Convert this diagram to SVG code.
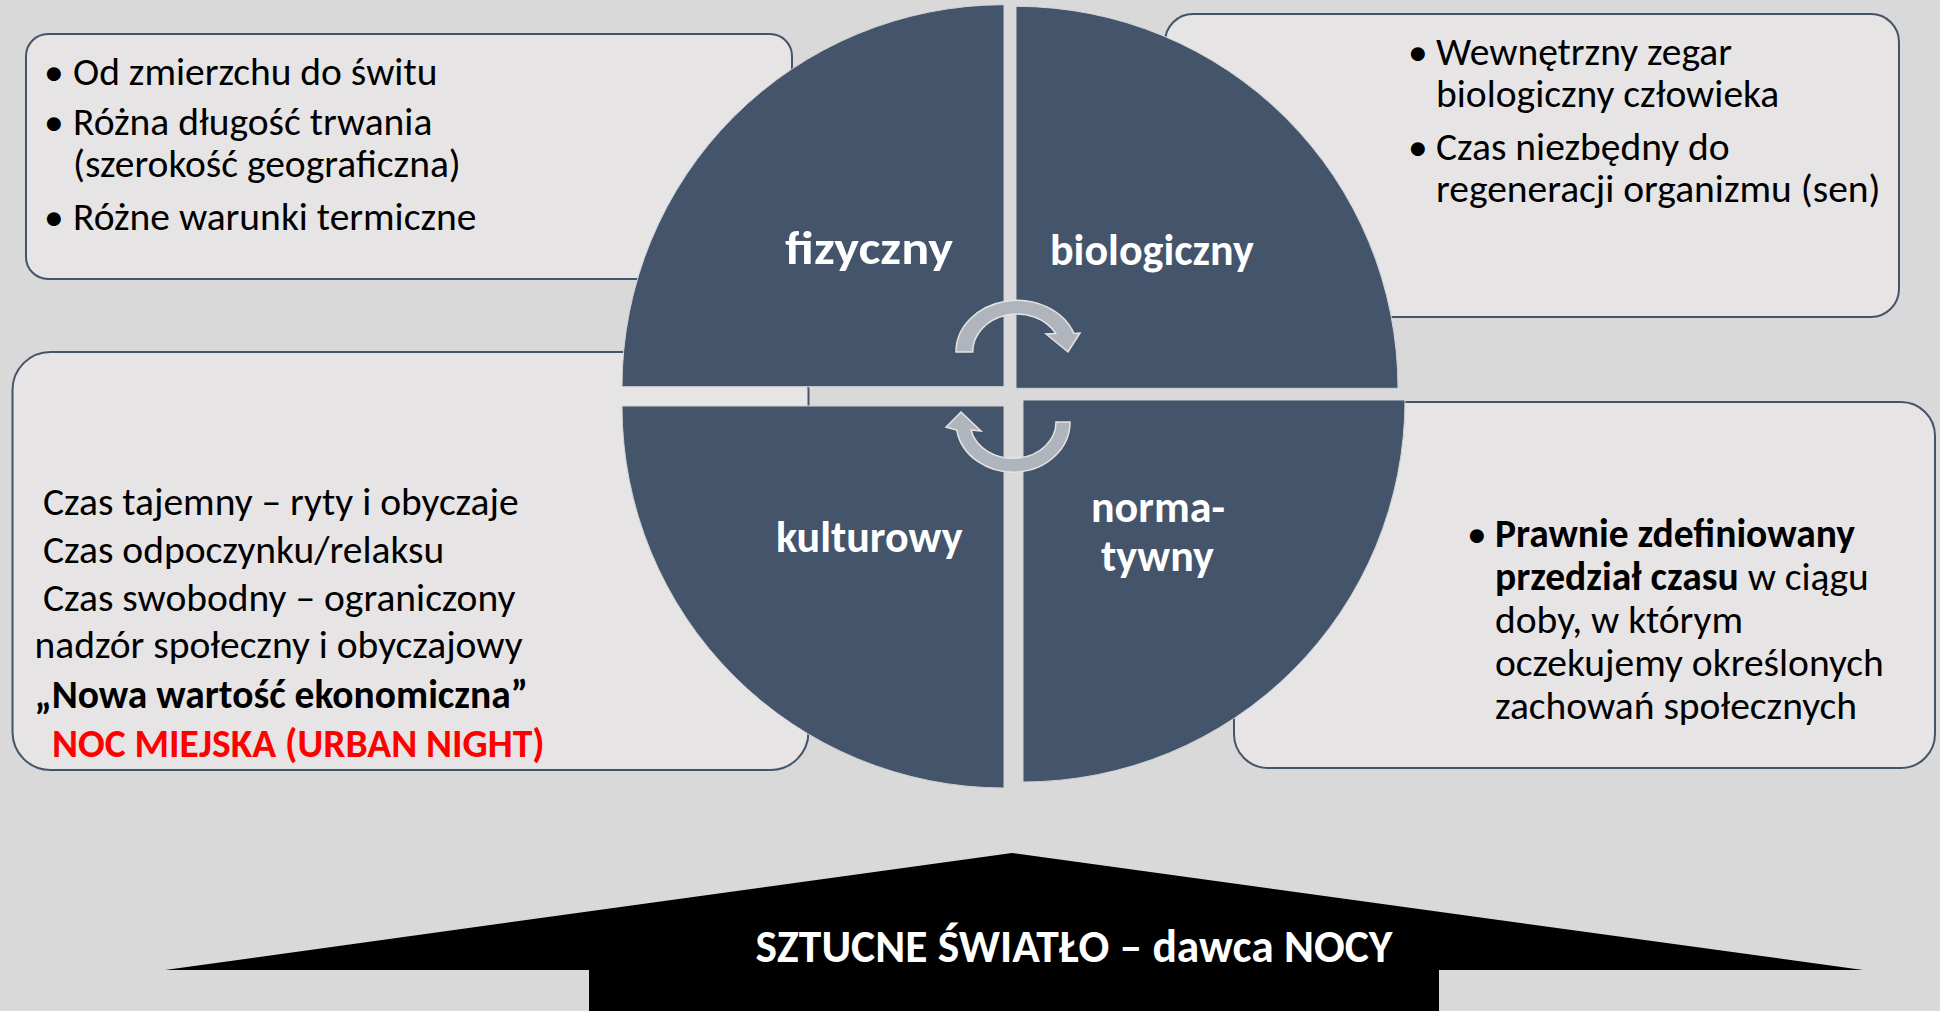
<svg xmlns="http://www.w3.org/2000/svg" width="1940" height="1011" viewBox="0 0 1940 1011">
<style>
.box{fill:#e6e4e4;stroke:#44546a;stroke-width:2}
.q{fill:#44546a;stroke:#d0d3d8;stroke-width:1}
.t{font-family:Carlito,Lato,"Open Sans",sans-serif;font-size:39.5px;fill:#000}
.b{font-weight:bold}
.lbl{font-family:Carlito,Lato,"Open Sans",sans-serif;font-size:44px;font-weight:bold;fill:#fff}
.carr{fill:#b0b4bc;stroke:#e4e4e4;stroke-width:1.5}
</style>
<rect width="1940" height="1011" fill="#d9d9d9"/>

<g id="box-fizyczny">
<rect class="box" x="26" y="34" width="766" height="245" rx="22"/>
<text class="t"><tspan x="44" y="85">•</tspan><tspan x="73" y="85">Od zmierzchu do świtu</tspan></text>
<text class="t"><tspan x="44" y="135">•</tspan><tspan x="73" y="135">Różna długość trwania</tspan><tspan x="73" y="177">(szerokość geograficzna)</tspan></text>
<text class="t"><tspan x="44" y="230">•</tspan><tspan x="73" y="230">Różne warunki termiczne</tspan></text>
</g>

<g id="box-biologiczny">
<rect class="box" x="1165" y="14" width="734" height="303" rx="28"/>
<text class="t"><tspan x="1408" y="65">•</tspan><tspan x="1436" y="65">Wewnętrzny zegar</tspan><tspan x="1436" y="107">biologiczny człowieka</tspan></text>
<text class="t"><tspan x="1408" y="160">•</tspan><tspan x="1436" y="160">Czas niezbędny do</tspan><tspan x="1436" y="202">regeneracji organizmu (sen)</tspan></text>
</g>

<g id="box-kulturowy">
<rect class="box" x="12.5" y="352" width="796" height="418" rx="38"/>
<text class="t" x="43" y="515">Czas tajemny – ryty i obyczaje</text>
<text class="t" x="43" y="563">Czas odpoczynku/relaksu</text>
<text class="t" x="43" y="611">Czas swobodny – ograniczony</text>
<text class="t" x="34.5" y="658">nadzór społeczny i obyczajowy</text>
<text class="t b" x="34.5" y="708">„Nowa wartość ekonomiczna”</text>
<text class="t b" x="52" y="757" style="fill:#ff0000">NOC MIEJSKA (URBAN NIGHT)</text>
</g>

<g id="box-normatywny">
<rect class="box" x="1234" y="402" width="701" height="366" rx="34"/>
<text class="t"><tspan x="1467" y="547">•</tspan><tspan x="1495" y="547" font-weight="bold">Prawnie zdefiniowany</tspan><tspan x="1495" y="590" font-weight="bold">przedział czasu</tspan><tspan> w ciągu</tspan><tspan x="1495" y="633">doby, w którym</tspan><tspan x="1495" y="676">oczekujemy określonych</tspan><tspan x="1495" y="719">zachowań społecznych</tspan></text>
</g>

<g id="q-fizyczny">
<path class="q" d="M1004,386.7 L622,386.7 A382,382 0 0 1 1004,4.7 Z"/>
<text class="lbl" x="785" y="264" style="font-size:47px" textLength="168" lengthAdjust="spacingAndGlyphs">fizyczny</text>
</g>
<g id="q-biologiczny">
<path class="q" d="M1016,388.3 L1016,6.3 A382,382 0 0 1 1398,388.3 Z"/>
<text class="lbl" x="1050" y="265">biologiczny</text>
</g>
<g id="q-kulturowy">
<path class="q" d="M1004,406 L1004,788 A382,382 0 0 1 622,406 Z"/>
<text class="lbl" x="776" y="552">kulturowy</text>
</g>
<g id="q-normatywny">
<path class="q" d="M1023,400 L1405,400 A382,382 0 0 1 1023,782 Z"/>
<text class="lbl" x="1091" y="522">norma-</text>
<text class="lbl" x="1101" y="571">tywny</text>
</g>

<g id="connectors">
<path class="carr" d="M956,352 A61,51.5 0 0 1 1074,333.5 L1080,333 L1068,352 L1046,334 L1055.7,333.5 A44.3,38 0 0 0 972.7,352 Z"/>
<path class="carr" d="M1070,422 A57,50 0 0 1 956.7,430 L946,427 L961,412 L981,431 L971,430 A43,36 0 0 0 1056,422 Z"/>
</g>

<g id="arrow-swiatlo">
<polygon points="1012,853 1863,970 1439,970 1439,1011 589,1011 589,970 165,970" fill="#000"/>
<text class="lbl" x="1074" y="962" text-anchor="middle" style="font-size:45.5px">SZTUCNE ŚWIATŁO – dawca NOCY</text>
</g>
</svg>
